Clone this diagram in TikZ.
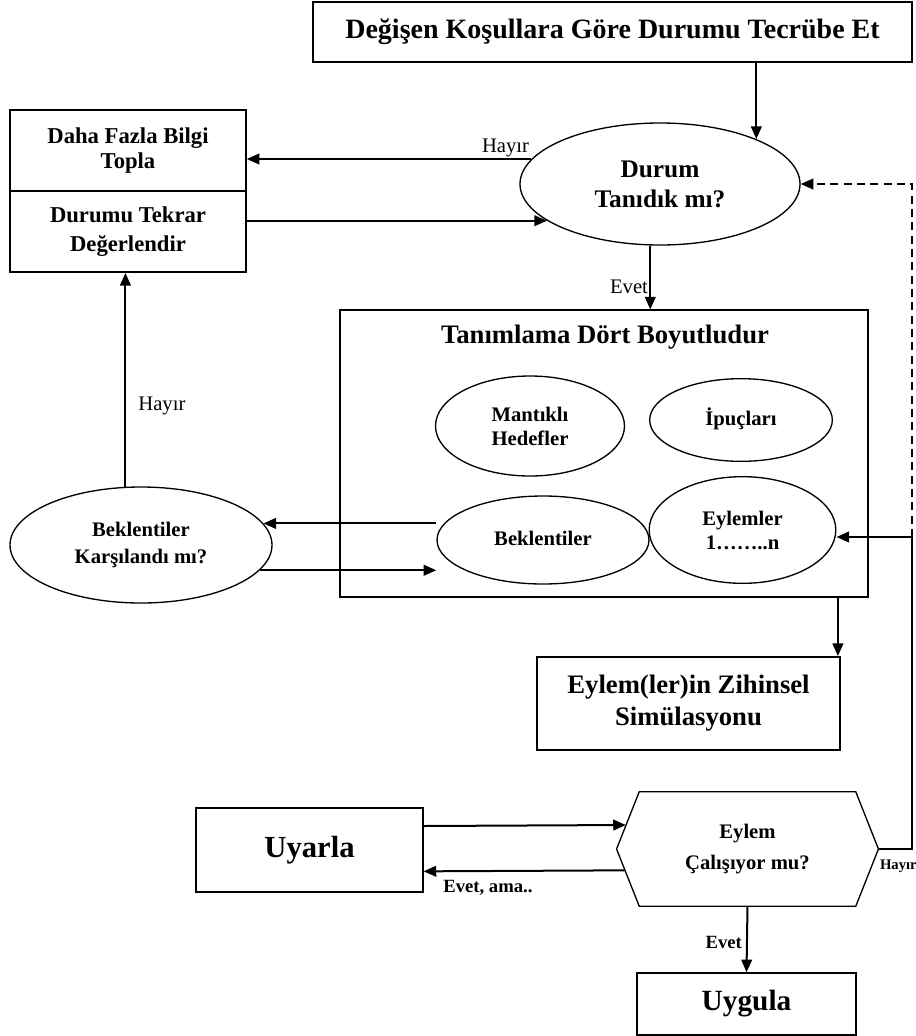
\documentclass[tikz,border=0pt]{standalone}
\usepackage{fontspec}
\setmainfont{Liberation Serif}
\usetikzlibrary{shapes.geometric,arrows.meta}

\begin{document}
\begin{tikzpicture}[
  x=0.75pt, y=-0.75pt,
  box/.style={draw, line width=1.1pt, align=center, inner sep=2pt, font=\bfseries},
  oval/.style={ellipse, draw, line width=1pt, align=center, inner sep=0pt, font=\bfseries},
  flow/.style={-{Triangle[length=9.5pt,width=8pt]}, line width=1.5pt},
  dashflow/.style={flow, dash pattern=on 6pt off 4pt},
  plainline/.style={line width=1.5pt},
  lbl/.style={font=\fontsize{15.5}{17}\selectfont, inner sep=1pt},
  blbl/.style={font=\bfseries\fontsize{14}{16}\selectfont, inner sep=1pt}
]
\useasboundingbox (0,0) rectangle (915,1036);

% top of the cycle
\node[box, minimum width=449pt, minimum height=45pt, font=\bfseries\fontsize{21}{24}\selectfont] (deneyim) at (612.5,32)
  {Değişen Koşullara Göre Durumu Tecrübe Et};

\node[oval, minimum width=210pt, minimum height=91.5pt, font=\bfseries\fontsize{19}{22.5}\selectfont] (durum) at (660,184)
  {Durum\\Tanıdık mı?};

\node[box, minimum width=177pt, minimum height=61pt, font=\bfseries\fontsize{17}{19}\selectfont] (bilgi) at (128,150.5)
  {Daha Fazla Bilgi\\Topla};
\node[box, minimum width=177pt, minimum height=61pt, font=\bfseries\fontsize{17}{21.5}\selectfont] (tekrar) at (128,231.5)
  {Durumu Tekrar\\Değerlendir};

% four dimensions
\node[box, minimum width=396pt, minimum height=215pt] (tanim) at (604,453.5) {};
\node[font=\bfseries\fontsize{20}{22}\selectfont] (baslik) at (605,337) {Tanımlama Dört Boyutludur};

\node[oval, minimum width=141.75pt, minimum height=75pt, font=\bfseries\fontsize{15.5}{18}\selectfont] (hedef) at (530,426)
  {Mantıklı\\Hedefler};
\node[oval, minimum width=137pt, minimum height=62pt, font=\bfseries\fontsize{15.5}{18}\selectfont] (ipucu) at (741,420)
  {\raisebox{5pt}{İpuçları}};
\node[oval, minimum width=159pt, minimum height=66pt, font=\bfseries\fontsize{15.5}{18}\selectfont] (bekl) at (543,540)
  {\raisebox{3pt}{Beklentiler}};
\node[oval, minimum width=140pt, minimum height=80pt, font=\bfseries\fontsize{15.5}{18}\selectfont] (eylemler) at (742.5,530)
  {Eylemler\\1……..n};

\node[oval, minimum width=196.5pt, minimum height=87pt, font=\bfseries\fontsize{15.5}{20}\selectfont] (karsi) at (141,545)
  {Beklentiler\\Karşılandı mı?};

% simulation and test
\node[box, minimum width=227pt, minimum height=70pt, font=\bfseries\fontsize{20}{24}\selectfont] (sim) at (688.5,703.5)
  {Eylem(ler)in Zihinsel\\Simülasyonu};

\node[minimum width=196pt, minimum height=85.5pt, align=center, inner sep=0pt, font=\bfseries\fontsize{15.5}{23}\selectfont] (hex) at (747.5,849)
  {Eylem\\Çalışıyor mu?};
\draw[line width=1pt] (hex.west) -- ([xshift=17pt]hex.north west) -- ([xshift=-17pt]hex.north east)
  -- (hex.east) -- ([xshift=-17pt]hex.south east) -- ([xshift=17pt]hex.south west) -- cycle;

\node[box, minimum width=170pt, minimum height=63pt, font=\bfseries\fontsize{23}{26}\selectfont] (uyarla) at (309.5,850) {Uyarla};
\node[box, minimum width=164pt, minimum height=46.5pt, font=\bfseries\fontsize{22}{25}\selectfont] (uygula) at (746.5,1004) {Uygula};

\coordinate (donus) at (912,537);

% connectors
\draw[flow] (deneyim.south -| durum.25) -- (durum.25);
\draw[flow] (durum.169) -- (durum.169 -| bilgi.east)
  node[lbl, pos=0, above left] {Hayır};
\draw[flow] (durum.198 -| tekrar.east) -- (durum.198);
\draw[flow] (durum.261) -- (durum.261 |- tanim.north)
  node[lbl, pos=0.65, left] {Evet};

\draw[flow] (karsi.10 -| bekl.west) -- (karsi.10);
\draw[flow] (karsi.348) -- (karsi.348 -| bekl.west);
\draw[flow] (karsi.105) -- (karsi.105 |- tekrar.south)
  node[lbl, pos=0.38, right=8pt] {Hayır};

\draw[flow] ([xshift=-2pt]sim.north east |- tanim.south) -- ([xshift=-2pt]sim.north east);

\draw[flow] ([yshift=18pt]uyarla.east) -- ([yshift=18pt,xshift=7pt]hex.west);
\draw[flow] ([yshift=-16pt,xshift=6pt]hex.west) -- ([yshift=-16pt]uyarla.east)
  node[blbl, pos=0.68, below=5pt] {Evet, ama..};
\draw[flow] (hex.south) -- (uygula.north)
  node[blbl, pos=0.55, left=2pt] {Evet};

\draw[plainline] (hex.east) -| (donus);
\node[font=\bfseries\fontsize{11}{13}\selectfont, inner sep=0pt, anchor=north west] (hayir) at ([yshift=-8pt,xshift=1pt]hex.east) {Hayır};
\draw[flow] (donus) -- (donus -| eylemler.east);
\draw[dashflow] (donus) |- (durum.east);

\end{tikzpicture}
\end{document}
